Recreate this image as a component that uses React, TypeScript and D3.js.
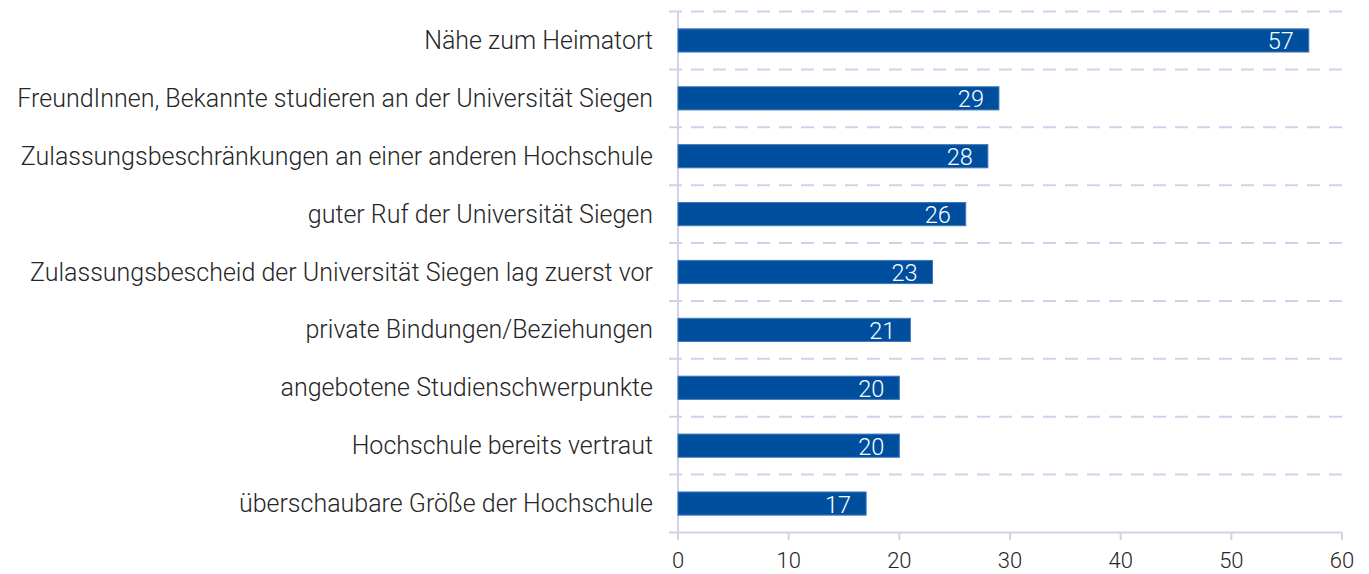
import React from "react";
import * as d3 from "d3";

const categories = [
  "Nähe zum Heimatort",
  "FreundInnen, Bekannte studieren an der Universität Siegen",
  "Zulassungsbeschränkungen an einer anderen Hochschule",
  "guter Ruf der Universität Siegen",
  "Zulassungsbescheid der Universität Siegen lag zuerst vor",
  "private Bindungen/Beziehungen",
  "angebotene Studienschwerpunkte",
  "Hochschule bereits vertraut",
  "überschaubare Größe der Hochschule",
];
const values = [57, 29, 28, 26, 23, 21, 20, 20, 17];
const xTicks = [0, 10, 20, 30, 40, 50, 60];

const W = 1369;
const H = 574;
const FONT = "Roboto, 'Noto Sans', sans-serif";

export default function App() {
  const x = d3.scaleLinear().domain([0, 60]).range([678, 1342]);
  const y = d3.scaleBand<string>().domain(categories).range([11.5, 532.5]).paddingInner(0.6).paddingOuter(0.3);
  const step = y.step();
  const grid = d3.range(categories.length).map((i) => 11.5 + i * step);
  const gridColor = "#d3d1ea";
  return (
    <svg width={W} height={H} style={{ position: "absolute", left: 0, top: 0, background: "#fff" }}>
      {grid.map((g, i) => (
        <line key={"g" + i} x1={669} x2={1345} y1={g} y2={g} stroke={gridColor} strokeWidth={2} strokeDasharray="13,9" />
      ))}
      <line x1={x(0)} x2={x(0)} y1={11.5} y2={540} stroke={gridColor} strokeWidth={2} />
      <line x1={669} x2={x(60)} y1={532.5} y2={532.5} stroke={gridColor} strokeWidth={2} />
      {xTicks.map((t) => (
        <g key={"t" + t}>
          <line x1={x(t)} x2={x(t)} y1={532.5} y2={540} stroke={gridColor} strokeWidth={2} />
          <text x={x(t)} y={568} textAnchor="middle" fontFamily={FONT} fontWeight={300} fontSize={22} fill="#262626">
            {t}
          </text>
        </g>
      ))}
      {categories.map((c, i) => {
        const yy = y(c)!;
        const bw = y.bandwidth();
        const cy = yy + bw / 2;
        return (
          <g key={c}>
            <rect x={x(0)} y={yy} width={x(values[i]) - x(0)} height={bw} fill="#004f9e" stroke="#3f76b8" strokeWidth={1} />
            <text x={x(values[i]) - 15} y={cy + 9} textAnchor="end" fontFamily={FONT} fontWeight={300} fontSize={23.5} fill="#fff">
              {values[i]}
            </text>
            <text x={653} y={cy + 8.5} textAnchor="end" fontFamily={FONT} fontWeight={300} fontSize={25} fill="#262626">
              {c}
            </text>
          </g>
        );
      })}
    </svg>
  );
}
